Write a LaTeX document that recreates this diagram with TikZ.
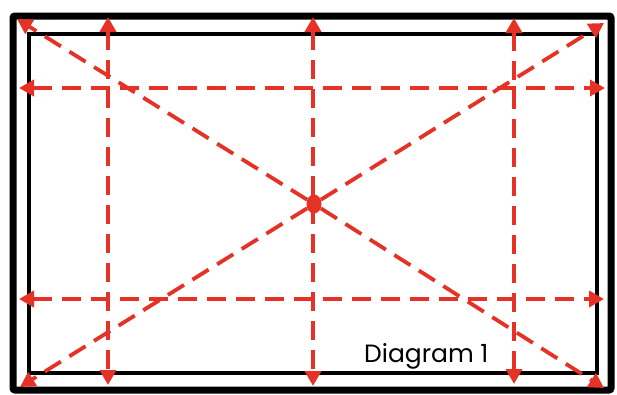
\documentclass[tikz,border=0pt]{standalone}
\usepackage{fontspec}
\setmainfont{Poppins}
\usetikzlibrary{arrows.meta,shapes.geometric}
\definecolor{guidered}{RGB}{230,50,38}
\begin{document}
\begin{tikzpicture}[x=1pt,y=-1pt,
  guide/.style={draw=guidered, line width=3.8pt, dash pattern=on 19pt off 10pt},
  tip/.tip={Triangle[length=15pt,width=16pt]},
  dbl/.style={guide, tip-tip},
  sgl/.style={guide, -tip},
  frameout/.style={draw=black, line width=7pt, rounded corners=2pt},
  framein/.style={draw=black, line width=3.5pt}]
\useasboundingbox (0,0) rectangle (617,394);
\fill[white] (0,0) rectangle (617,394);
% frames
\draw[frameout] (13,16) rectangle (611,390);
\draw[framein] (29,34) rectangle (597,373);
% center dot
\node[fill=guidered, ellipse, minimum width=15pt, minimum height=19pt, inner sep=0pt] (c) at (314,204) {};
% endpoints
\coordinate (tl) at (17,19);
\coordinate (tr) at (604,23);
\coordinate (bl) at (20,387);
\coordinate (br) at (604,388);
\coordinate (v1t) at (108,17);
\coordinate (v1b) at (108,385);
\coordinate (v2t) at (313,17);
\coordinate (v2b) at (313,386);
\coordinate (v3t) at (514,18);
\coordinate (v3b) at (514,384);
\coordinate (h1l) at (19,88);
\coordinate (h1r) at (605,88);
\coordinate (h2l) at (19,299);
\coordinate (h2r) at (604,299);
% guides
\draw[dbl] (v1t) -- (v1b);
\draw[dbl] (v2t) -- (v2b);
\draw[dbl] (v3t) -- (v3b);
\draw[dbl] (h1l) -- (h1r);
\draw[dbl] (h2l) -- (h2r);
\draw[sgl] (c) -- (tl);
\draw[sgl] (c) -- (tr);
\draw[sgl] (c) -- (bl);
\draw[sgl] (c) -- (br);
% label
\node[anchor=base west, inner sep=0pt, font=\fontsize{25}{29}\selectfont] (lbl) at (364,362) {Diagram 1};
\end{tikzpicture}
\end{document}
